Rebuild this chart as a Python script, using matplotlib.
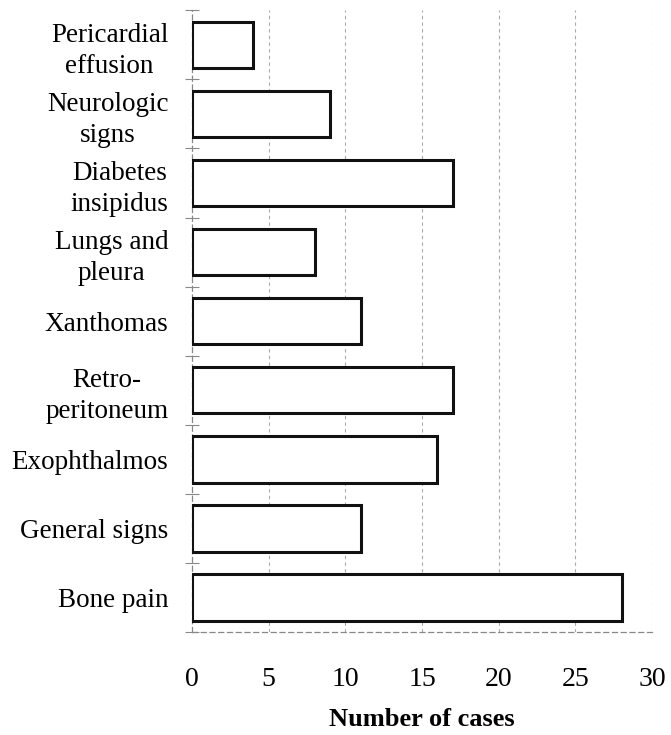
import matplotlib
matplotlib.use("Agg")
import matplotlib.pyplot as plt
import numpy as np

categories = ["Pericardial\neffusion", "Neurologic\nsigns", "Diabetes\ninsipidus",
              "Lungs and\npleura", "Xanthomas", "Retro-\nperitoneum", "Exophthalmos",
              "General signs", "Bone pain"]
cases = [4, 9, 17, 8, 11, 17, 16, 11, 28]
xticks = [0, 5, 10, 15, 20, 25, 30]

plt.rcParams['font.family'] = ['Liberation Serif', 'DejaVu Serif']

fig = plt.figure(figsize=(6.71, 7.35), dpi=100)
ax = fig.add_axes([0.286, 0.140, 0.686, 0.846])

n = len(categories)
ypos = np.arange(n)[::-1]
ax.barh(ypos, cases, height=0.67, color="white", edgecolor="#111111", linewidth=2.2, zorder=3)

ax.set_xlim(0, 30)
ax.set_ylim(-0.5, n - 0.5)
ax.set_xticks(xticks)
ax.set_xticklabels([str(t) for t in xticks], fontsize=20)
ax.set_yticks(ypos)
ax.set_yticklabels(categories, fontsize=19.5, linespacing=1.3, multialignment="center")
ax.tick_params(axis="y", length=0, pad=17)
ax.tick_params(axis="x", length=0, pad=25)

# category boundary ticks crossing the left spine
ax.set_yticks(np.arange(n + 1) - 0.5, minor=True)
ax.tick_params(axis="y", which="minor", length=10, direction="inout", color="#888888", width=0.8)
ax.set_xticks(xticks, minor=True)
ax.tick_params(axis="x", which="minor", length=10, direction="inout", color="#888888", width=0.8)

for x in xticks[1:]:
    ax.axvline(x, color="#aaaaaa", linestyle=(0, (3, 3)), linewidth=0.8, zorder=1)

for side in ["top", "right"]:
    ax.spines[side].set_visible(False)
for side in ["left", "bottom"]:
    ax.spines[side].set_color("#888888")
    ax.spines[side].set_linestyle((0, (4, 3)))
    ax.spines[side].set_linewidth(0.9)

ax.set_xlabel("Number of cases", fontsize=19, fontweight="bold", labelpad=12)

fig.savefig("out.png", dpi=100)
